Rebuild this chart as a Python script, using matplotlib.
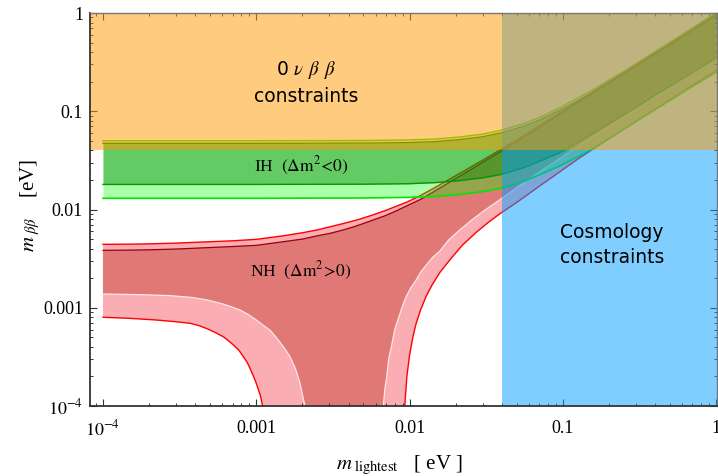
import numpy as np
from matplotlib import pyplot as plt, ticker

plt.rcParams['font.family'] = 'Liberation Serif'
plt.rcParams['mathtext.fontset'] = 'stix'

# experimental limits [eV]
dbd_limit = 0.04      # 0vbb bound on m_bb
cosmo_limit = 0.04    # cosmology bound on m_lightest

# normal hierarchy: upper edges (3 sigma and best-fit region)
nh_up_m = [1e-4, 1.5e-4, 2e-4, 3e-4, 5e-4, 7e-4, 1e-3, 1.5e-3, 2e-3, 2.5e-3,
           3e-3, 3.7e-3, 4.5e-3, 5.5e-3, 7e-3, 8.2e-3, 0.0096, 0.0117, 0.0135,
           0.0158, 0.0185, 0.0213, 0.025, 0.03, 0.039, 0.05, 0.06, 0.08, 0.1,
           0.2, 0.4, 0.7, 1.0]
nh_up_3s = [0.00442, 0.00444, 0.00447, 0.00455, 0.0047, 0.0048, 0.00497,
            0.0054, 0.0058, 0.0062, 0.00665, 0.0072, 0.0078, 0.0086, 0.0098,
            0.0108, 0.0119, 0.0138, 0.0156, 0.0179, 0.0206, 0.0234, 0.0270,
            0.0318, 0.0405, 0.0512, 0.0612, 0.0812, 0.1012, 0.201, 0.40, 0.70,
            1.0]
nh_up_1s = [0.00384, 0.00386, 0.00389, 0.00396, 0.0041, 0.0042, 0.00432,
            0.0047, 0.0050, 0.0054, 0.0057, 0.0062, 0.0068, 0.0076, 0.0087,
            0.0097, 0.0109, 0.0126, 0.0143, 0.0166, 0.0192, 0.0219, 0.0254,
            0.0302, 0.0386, 0.049, 0.0585, 0.0778, 0.0972, 0.194, 0.388, 0.68,
            0.97]

# normal hierarchy: lower edge, 3 sigma (left arm / right arm of the funnel)
nh_lo3_left_m = [1e-4, 1.5e-4, 2.24e-4, 3e-4, 3.69e-4, 4.2e-4, 4.74e-4,
                 5.4e-4, 6.09e-4, 6.6e-4, 7.1e-4, 7.7e-4, 8.23e-4, 8.7e-4,
                 9.1e-4, 9.6e-4, 1.0e-3, 1.06e-3, 1.1e-3, 1.12e-3]
nh_lo3_left = [0.00080, 0.00078, 0.00075, 0.00072, 0.000695, 0.00066,
               0.000615, 0.00056, 0.000507, 0.00046, 0.000418, 0.00037,
               0.000318, 0.00028, 0.000242, 0.0002, 0.00017, 0.00013, 0.0001,
               0.00005]
nh_lo3_right_m = [0.0091, 0.0093, 0.0096, 0.0100, 0.0105, 0.011, 0.0118,
                  0.0128, 0.014, 0.0158, 0.0184, 0.022, 0.027, 0.033, 0.039,
                  0.05, 0.07, 0.13, 0.3, 1.0]
nh_lo3_right = [0.00005, 0.0001, 0.0002, 0.00033, 0.0005, 0.00068, 0.00095,
                0.0013, 0.0017, 0.0023, 0.0031, 0.0043, 0.0058, 0.0075, 0.0091,
                0.0118, 0.0172, 0.034, 0.079, 0.26]

# normal hierarchy: lower edge, best-fit region
nh_lo1_left_m = [1e-4, 1.74e-4, 2.7e-4, 3.69e-4, 4.8e-4, 6.09e-4, 6.9e-4,
                 7.83e-4, 8.9e-4, 1.0e-3, 1.1e-3, 1.23e-3, 1.32e-3, 1.42e-3,
                 1.54e-3, 1.66e-3, 1.8e-3, 1.93e-3, 2.0e-3, 2.08e-3, 2.12e-3]
nh_lo1_left = [0.00138, 0.00136, 0.00133, 0.00128, 0.0012, 0.00109, 0.00102,
               0.00095, 0.00085, 0.00075, 0.00067, 0.00059, 0.00052, 0.00045,
               0.00038, 0.000318, 0.00024, 0.00017, 0.00013, 0.0001, 0.00005]
nh_lo1_right_m = [0.0066, 0.00674, 0.0069, 0.0071, 0.0073, 0.0076, 0.008,
                  0.0085, 0.009, 0.0095, 0.0102, 0.011, 0.0118, 0.0128, 0.014,
                  0.0158, 0.018, 0.021, 0.0254, 0.03, 0.04, 0.07, 0.12, 0.3,
                  1.0]
nh_lo1_right = [0.00005, 0.0001, 0.00015, 0.0002, 0.0003, 0.0004, 0.0006,
                0.0008, 0.00105, 0.0013, 0.0016, 0.0019, 0.0023, 0.0027,
                0.0032, 0.0038, 0.0049, 0.0061, 0.0078, 0.0095, 0.013, 0.024,
                0.042, 0.105, 0.35]

# inverted hierarchy
ih_m = [1e-4, 1e-3, 0.005, 0.01, 0.015, 0.0207, 0.03, 0.0397, 0.055, 0.0723,
        0.0957, 0.15, 0.25, 0.4, 0.65, 1.0]
ih_up_3s = [0.0501, 0.0501, 0.0504, 0.0511, 0.0523, 0.0545, 0.0585, 0.0642,
            0.0745, 0.088, 0.109, 0.159, 0.255, 0.405, 0.652, 1.0]
ih_up_1s = [0.0471, 0.0471, 0.0474, 0.0480, 0.0492, 0.0512, 0.055, 0.0603,
            0.070, 0.0827, 0.1025, 0.149, 0.24, 0.38, 0.613, 0.94]
ih_lo_1s = [0.0180, 0.0180, 0.0181, 0.0183, 0.0188, 0.0196, 0.0210, 0.0228,
            0.0265, 0.0315, 0.038, 0.057, 0.092, 0.145, 0.23, 0.35]
ih_lo_3s = [0.0130, 0.0130, 0.0131, 0.0133, 0.0136, 0.0142, 0.0152, 0.0165,
            0.0192, 0.023, 0.0278, 0.040, 0.066, 0.104, 0.167, 0.25]

y_ticks = [1e-4, 1e-3, 1e-2, 0.1, 1]
y_tick_labels = ['$10^{-4}$', '0.001', '0.01', '0.1', '1']
x_ticks = [1e-4, 1e-3, 1e-2, 0.1, 1]
x_tick_labels = ['$10^{-4}$', '0.001', '0.01', '0.1', '1']


def funnel(up_m, up, right_m, right, left_m, left):
    """Outline of a band whose lower edge dips out of the plot."""
    xs = list(up_m) + list(right_m[::-1]) + list(left_m[::-1])
    ys = list(up) + list(right[::-1]) + list(left[::-1])
    return xs, ys


fig = plt.figure(figsize=(7.18, 4.76), dpi=100)
ax = fig.add_axes([90 / 718, 70 / 476, 627 / 718, 393 / 476])
ax.set_xscale('log')
ax.set_yscale('log')
ax.set_xlim(8.23e-5, 1.012)
ax.set_ylim(1e-4, 1)

# NH
pink = (0.98, 0.68, 0.70)
dark_red = (0.88, 0.47, 0.46)
ax.fill(*funnel(nh_up_m, nh_up_3s, nh_lo3_right_m, nh_lo3_right,
                nh_lo3_left_m, nh_lo3_left), color=pink, lw=0, zorder=1.0)
ax.fill(*funnel(nh_up_m, nh_up_1s, nh_lo1_right_m, nh_lo1_right,
                nh_lo1_left_m, nh_lo1_left), color=dark_red, lw=0, zorder=1.1)
ax.plot(nh_up_m, nh_up_3s, color='red', lw=1.0, zorder=1.2)
ax.plot(nh_up_m, nh_up_1s, color=(0.6, 0.0, 0.05), lw=0.9, zorder=1.2)
ax.plot(nh_lo3_left_m, nh_lo3_left, color='red', lw=1.0, zorder=1.2)
ax.plot(nh_lo3_right_m, nh_lo3_right, color='red', lw=1.0, zorder=1.2)
ax.plot(nh_lo1_left_m, nh_lo1_left, color=(1, 0.9, 0.9), lw=0.9, zorder=1.2)
ax.plot(nh_lo1_right_m, nh_lo1_right, color=(1, 0.9, 0.9), lw=0.9, zorder=1.2)

# IH
ax.fill_between(ih_m, ih_lo_3s, ih_up_3s, color=(0, 1, 0), alpha=0.33,
                lw=0, zorder=1.3)
ax.fill_between(ih_m, ih_lo_1s, ih_up_1s, color=(0, 0.5, 0), alpha=0.41,
                lw=0, zorder=1.4)
ax.plot(ih_m, ih_up_3s, color=(0.3, 0.85, 0.0), lw=1.0, zorder=1.5)
ax.plot(ih_m, ih_up_1s, color=(0.1, 0.5, 0.0), lw=0.9, zorder=1.5)
ax.plot(ih_m, ih_lo_1s, color=(0.0, 0.6, 0.0), lw=1.0, zorder=1.5)
ax.plot(ih_m, ih_lo_3s, color=(0.0, 0.9, 0.0), lw=1.2, zorder=1.5)

# excluded regions
ax.axvspan(cosmo_limit, 10, color=(0, 0.62, 1), alpha=0.5, lw=0, zorder=1.6)
ax.axhspan(dbd_limit, 10, color=(1, 0.6, 0), alpha=0.5, lw=0, zorder=1.7)

ax.text(2.11e-3, 0.194, '0 $\\nu$ $\\beta$ $\\beta$\nconstraints',
        family='DejaVu Sans', fontsize=13.5, ha='center', va='center',
        linespacing=1.4, zorder=3)
ax.text(0.209, 0.0044, 'Cosmology\nconstraints', family='DejaVu Sans',
        fontsize=13.5, ha='center', va='center', linespacing=1.4, zorder=3)
ax.text(1.96e-3, 0.0277, r'IH  $(\Delta\mathrm{m}^{2}\!<\!0)$', fontsize=12.5,
        ha='center', va='center', zorder=3)
ax.text(1.96e-3, 0.00237, r'NH  $(\Delta\mathrm{m}^{2}\!>\!0)$', fontsize=12.5,
        ha='center', va='center', zorder=3)

ax.set_xticks(x_ticks)
ax.xaxis.set_major_formatter(ticker.FixedFormatter(x_tick_labels))
ax.set_yticks(y_ticks)
ax.yaxis.set_major_formatter(ticker.FixedFormatter(y_tick_labels))
ax.xaxis.set_minor_locator(ticker.LogLocator(base=10, subs=np.arange(2, 10)))
ax.yaxis.set_minor_locator(ticker.LogLocator(base=10, subs=np.arange(2, 10)))
ax.xaxis.set_minor_formatter(ticker.NullFormatter())
ax.yaxis.set_minor_formatter(ticker.NullFormatter())
ax.tick_params(which='both', direction='in', top=True, right=True,
               labelsize=13, color='#333333')
ax.tick_params(which='major', length=5, width=0.8)
ax.tick_params(which='minor', length=2.5, width=0.7)
ax.tick_params(axis='x', pad=10)
ax.tick_params(axis='y', pad=5)

for side in ['left', 'bottom']:
    ax.spines[side].set_color('#333333')
    ax.spines[side].set_linewidth(1.3)
for side in ['top', 'right']:
    ax.spines[side].set_color('#777777')
    ax.spines[side].set_linewidth(1.0)

ax.set_xlabel(r'$m_{\;\mathrm{lightest}}$   [ eV ]', fontsize=15)
ax.set_ylabel(r'$m_{\;\beta\beta}$    [eV]', fontsize=15)
ax.xaxis.set_label_coords(0.494, -0.122)
ax.yaxis.set_label_coords(-0.076, 0.51)

fig.savefig('out.png', dpi=100)
